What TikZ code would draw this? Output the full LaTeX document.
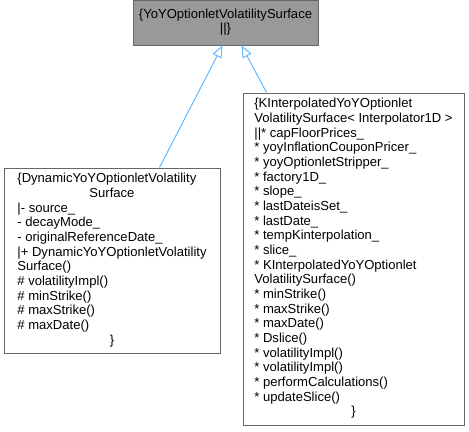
\documentclass[tikz,border=0pt]{standalone}
\usepackage{fontspec}
\setmainfont{Liberation Sans}
\usetikzlibrary{arrows.meta}
\definecolor{boxborder}{HTML}{666666}
\definecolor{basefill}{HTML}{999999}
\definecolor{inhblue}{HTML}{63B8FF}
\tikzset{
  classbox/.style={draw=boxborder, line width=0.75pt, fill=white, inner sep=0pt,
    font=\fontsize{9.8}{11}\selectfont},
  basebox/.style={classbox, fill=basefill},
  inh/.style={draw=inhblue, line width=0.75pt,
    -{Triangle[open, length=9pt, width=7.5pt, fill=white]}}
}
\begin{document}
\begin{tikzpicture}[x=0.75pt, y=-0.75pt]
\useasboundingbox (0,0) rectangle (469,432);
\node[basebox, minimum width=138.75pt, minimum height=33.75pt] (base) at (225.5,22.5)
  {\begin{tabular}{@{}c@{}}\{YoYOptionletVolatilitySurface\\ ||\}\end{tabular}};
\node[classbox, minimum width=162pt, minimum height=138.75pt] (dyn) at (112,260.5)
  {\begin{tabular}{@{}l@{}}
  \{DynamicYoYOptionletVolatility\\
  \multicolumn{1}{@{}c@{}}{Surface}\\
  |- source\_\\
  - decayMode\_\\
  - originalReferenceDate\_\\
  |+ DynamicYoYOptionletVolatility\\
  Surface()\\
  \# volatilityImpl()\\
  \# minStrike()\\
  \# maxStrike()\\
  \# maxDate()\\
  \multicolumn{1}{@{}c@{}}{\}}
  \end{tabular}};
\node[classbox, minimum width=165.75pt, minimum height=249pt] (kint) at (353.5,259)
  {\begin{tabular}{@{}l@{}}
  \{KInterpolatedYoYOptionlet\\
  VolatilitySurface< Interpolator1D >\\
  ||* capFloorPrices\_\\
  {}* yoyInflationCouponPricer\_\\
  {}* yoyOptionletStripper\_\\
  {}* factory1D\_\\
  {}* slope\_\\
  {}* lastDateisSet\_\\
  {}* lastDate\_\\
  {}* tempKinterpolation\_\\
  {}* slice\_\\
  {}* KInterpolatedYoYOptionlet\\
  VolatilitySurface()\\
  {}* minStrike()\\
  {}* maxStrike()\\
  {}* maxDate()\\
  {}* Dslice()\\
  {}* volatilityImpl()\\
  {}* volatilityImpl()\\
  {}* performCalculations()\\
  {}* updateSlice()\\
  \multicolumn{1}{@{}c@{}}{\}}
  \end{tabular}};
\draw[inh] ([xshift=117pt]dyn.north west) -- ([xshift=67.5pt]base.south west);
\draw[inh] ([xshift=18pt]kint.north west) -- ([xshift=81.75pt]base.south west);
\end{tikzpicture}
\end{document}
